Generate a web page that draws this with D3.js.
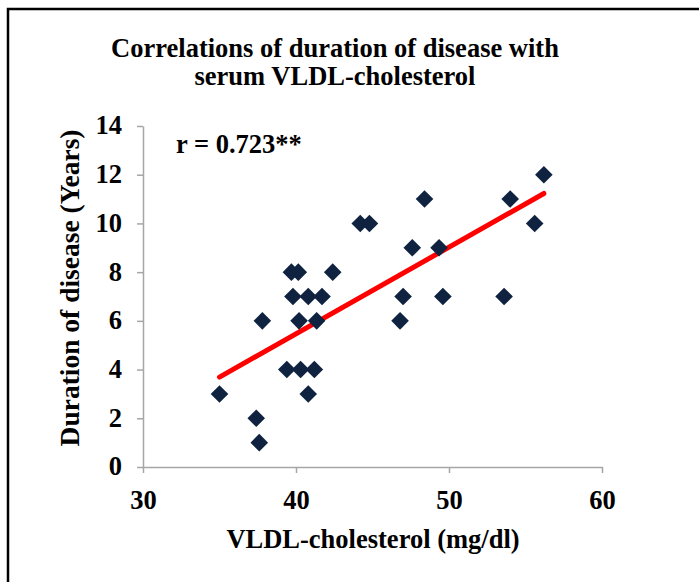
<!DOCTYPE html>
<html>
<head>
<meta charset="utf-8">
<script src="https://cdn.jsdelivr.net/npm/d3@7"></script>
<style>
  html, body { margin: 0; padding: 0; background: #fff; }
  svg text { font-family: "Liberation Serif", "Times New Roman", serif; font-weight: bold; fill: #000; }
</style>
</head>
<body>
<svg id="chart" width="699" height="582"></svg>
<script>
// Data
const vldl = [35.0, 37.4, 37.6, 37.8, 39.4, 40.3, 41.2, 40.8, 40.2, 41.35,
              39.8, 40.8, 41.7, 39.7, 40.15, 42.4, 44.2, 44.8, 48.4, 47.6,
              49.35, 54.0, 56.2, 55.6, 47.0, 49.6, 53.6, 46.8];
const duration = [3, 2, 1, 6, 4, 4, 4, 3, 6, 6,
                  7, 7, 7, 8, 8, 8, 10, 10, 11, 9,
                  9, 11, 12, 10, 7, 7, 7, 6];
const fitX = [35.0, 56.2];
const fitY = [3.69, 11.23];
const xTicks = [30, 40, 50, 60];
const yTicks = [0, 2, 4, 6, 8, 10, 12, 14];
const titleLines = ["Correlations of duration of disease with", "serum VLDL-cholesterol"];
const xTitle = "VLDL-cholesterol (mg/dl)";
const yTitle = "Duration of disease (Years)";
const rLabel = "r = 0.723**";

const svg = d3.select("#chart");
const FS = 26.5;

// outer border (only top & left visible)
svg.append("rect")
  .attr("x", 8).attr("y", 9).attr("width", 720).attr("height", 620)
  .attr("fill", "none").attr("stroke", "#000").attr("stroke-width", 2.5);

const x = d3.scaleLinear().domain([30, 60]).range([143, 602]);
const y = d3.scaleLinear().domain([0, 14]).range([467, 126]);

const axisColor = "#a6a6a6";

// x axis
const gx = svg.append("g").attr("transform", `translate(0,${y(0)})`)
  .call(d3.axisBottom(x).tickValues(xTicks).tickSize(6).tickSizeOuter(0).tickFormat(d3.format("d")));
gx.select(".domain").attr("stroke", axisColor).attr("stroke-width", 1.5);
gx.selectAll(".tick line").attr("stroke", axisColor).attr("stroke-width", 1.5);
gx.selectAll(".tick text").attr("font-size", FS).attr("y", 42).attr("dy", 0)
  .style("font-family", '"Liberation Serif", serif').style("font-weight", "bold").attr("fill", "#000");

// y axis
const gy = svg.append("g").attr("transform", `translate(${x(30)},0)`)
  .call(d3.axisLeft(y).tickValues(yTicks).tickSize(6).tickSizeOuter(0).tickFormat(d3.format("d")));
gy.select(".domain").attr("stroke", axisColor).attr("stroke-width", 1.5);
gy.selectAll(".tick line").attr("stroke", axisColor).attr("stroke-width", 1.5);
gy.selectAll(".tick text").attr("font-size", FS).attr("x", -21).attr("dy", "0.3em")
  .style("font-family", '"Liberation Serif", serif').style("font-weight", "bold").attr("fill", "#000");

// trend line
svg.append("line")
  .attr("x1", x(fitX[0])).attr("y1", y(fitY[0]))
  .attr("x2", x(fitX[1])).attr("y2", y(fitY[1]))
  .attr("stroke", "#ff0000").attr("stroke-width", 5).attr("stroke-linecap", "round");

// points (diamonds)
const diamond = d3.symbol().type(d3.symbolSquare).size(155);
svg.append("g").selectAll("path")
  .data(vldl.map((v, i) => [v, duration[i]]))
  .join("path")
  .attr("d", diamond)
  .attr("transform", d => `translate(${x(d[0])},${y(d[1])}) rotate(45)`)
  .attr("fill", "#0f2340");

// title
svg.append("text").attr("x", 335).attr("y", 57).attr("text-anchor", "middle")
  .attr("font-size", FS).text(titleLines[0]);
svg.append("text").attr("x", 335).attr("y", 85).attr("text-anchor", "middle")
  .attr("font-size", FS).text(titleLines[1]);

// r label
svg.append("text").attr("x", 176).attr("y", 153).attr("font-size", FS).text(rLabel);

// axis titles
svg.append("text").attr("x", 373).attr("y", 548).attr("text-anchor", "middle")
  .attr("font-size", FS).text(xTitle);
svg.append("text").attr("transform", "translate(79,288) rotate(-90)").attr("text-anchor", "middle")
  .attr("font-size", 27.5).text(yTitle);
</script>
</body>
</html>
